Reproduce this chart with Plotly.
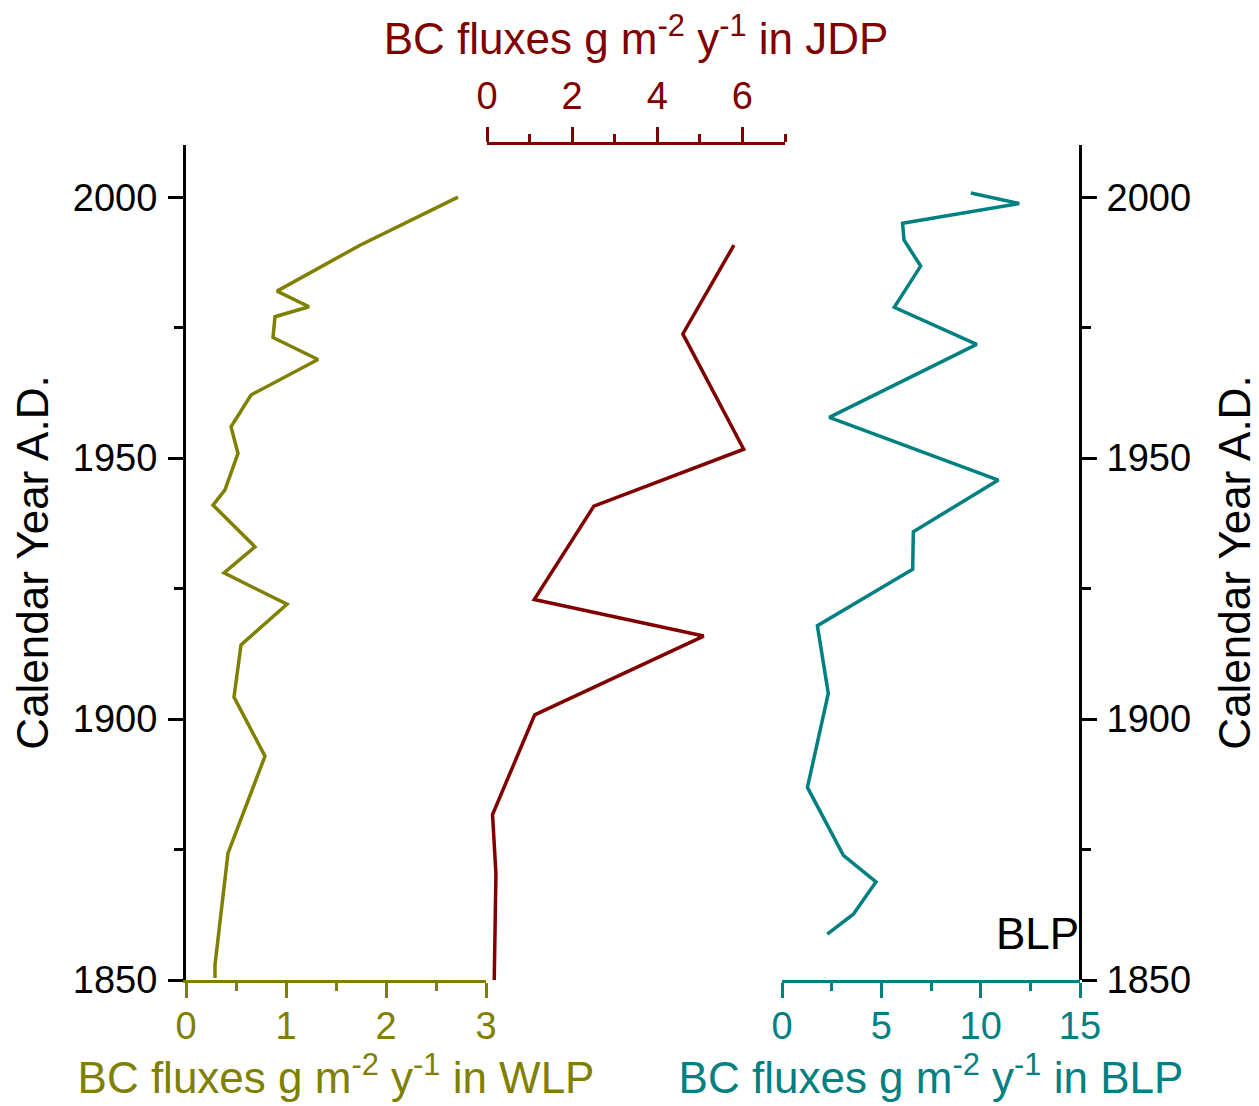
import plotly.graph_objects as go

# ---- data ----
wlp_year = [2000.0, 1990.8, 1982.0, 1979.0, 1977.1, 1973.1, 1968.9, 1962.1, 1956.0, 1950.9,
            1943.9, 1941.0, 1933.0, 1928.0, 1922.0, 1914.2, 1904.2, 1892.9, 1874.3, 1852.9, 1850.4]
wlp_flux = [2.72, 1.74, 0.91, 1.23, 0.89, 0.87, 1.32, 0.65, 0.45, 0.52,
            0.39, 0.27, 0.69, 0.38, 1.01, 0.55, 0.48, 0.79, 0.42, 0.29, 0.29]

jdp_year = [1990.8, 1973.8, 1951.7, 1940.8, 1922.9, 1915.9, 1900.8, 1881.7, 1870.4, 1850.0]
jdp_flux = [5.80, 4.60, 6.03, 2.51, 1.11, 5.09, 1.12, 0.13, 0.21, 0.17]

blp_year = [2000.8, 1998.8, 1995.0, 1991.8, 1986.8, 1978.9, 1971.8, 1957.8, 1945.8, 1935.9,
            1928.7, 1917.9, 1904.9, 1886.9, 1873.9, 1868.8, 1862.6, 1858.8]
blp_flux = [9.51, 11.94, 6.07, 6.14, 6.98, 5.65, 9.80, 2.38, 10.89, 6.61,
            6.58, 1.78, 2.33, 1.28, 3.09, 4.73, 3.59, 2.28]

year_ticks = [1850, 1900, 1950, 2000]
wlp_ticks = [0, 1, 2, 3]
jdp_ticks = [0, 2, 4, 6]
blp_ticks = [0, 5, 10, 15]

OLIVE = "#808000"
MAROON = "#800000"
TEAL = "#008080"
BLACK = "#000000"
FONT = "Liberation Sans, Arial, sans-serif"
TICK_SIZE = 38
TITLE_SIZE = 44
LINE_W = 3.5

# page body adds an 8px offset; figure is sized to fit the window
W, H = 1251, 1098
L, T = 178, 137
PW, PH = 894, 835
R, B = W - L - PW, H - T - PH


def dom(a, b):
    # a, b: pixel positions in the final picture
    return [(a - 8 - L) / PW, (b - 8 - L) / PW]


fig = go.Figure()
fig.add_trace(go.Scatter(x=wlp_flux, y=wlp_year, xaxis="x", yaxis="y", mode="lines",
                         line=dict(color=OLIVE, width=LINE_W), showlegend=False))
fig.add_trace(go.Scatter(x=jdp_flux, y=jdp_year, xaxis="x2", yaxis="y", mode="lines",
                         line=dict(color=MAROON, width=LINE_W), showlegend=False))
fig.add_trace(go.Scatter(x=blp_flux, y=blp_year, xaxis="x3", yaxis="y", mode="lines",
                         line=dict(color=TEAL, width=LINE_W), showlegend=False))
fig.add_trace(go.Scatter(x=[None], y=[None], xaxis="x3", yaxis="y2", mode="lines",
                         showlegend=False, hoverinfo="skip"))

sup_title = "BC fluxes g m<sup>-2</sup> y<sup>-1</sup> in "


def xaxis_style(color, rng, ticks, minor_dtick, domain, side, title, lab_off, tit_off):
    return dict(
        domain=domain, range=rng, anchor="y", side=side,
        showline=True, linecolor=color, linewidth=3,
        ticks="outside", ticklen=15, tickwidth=3, tickcolor=color,
        tickvals=ticks, tickfont=dict(family=FONT, size=TICK_SIZE, color=color),
        ticklabelstandoff=lab_off,
        minor=dict(dtick=minor_dtick, ticks="outside", ticklen=8, tickwidth=3, tickcolor=color),
        showgrid=False, zeroline=False, automargin=False, fixedrange=True,
        title=dict(text=title, font=dict(family=FONT, size=TITLE_SIZE, color=color), standoff=tit_off),
    )


def yaxis_style(side, lab_off, tit_off):
    return dict(
        range=[1850, 2010], side=side,
        showline=True, linecolor=BLACK, linewidth=3,
        ticks="outside", ticklen=15, tickwidth=3, tickcolor=BLACK,
        tickvals=year_ticks, tickfont=dict(family=FONT, size=TICK_SIZE, color=BLACK),
        ticklabelstandoff=lab_off,
        minor=dict(dtick=25, tick0=1850, ticks="outside", ticklen=9, tickwidth=3, tickcolor=BLACK),
        showgrid=False, zeroline=False, automargin=False, fixedrange=True,
        title=dict(text="Calendar Year A.D.", font=dict(family=FONT, size=TITLE_SIZE, color=BLACK),
                   standoff=tit_off),
    )


y1 = yaxis_style("left", 3, 39)
y1.update(domain=[0, 1])
y2 = yaxis_style("right", 2, 30)
y2.update(overlaying="y", anchor="free", position=1)

fig.update_layout(
    width=W, height=H,
    margin=dict(l=L, r=R, t=T, b=B),
    paper_bgcolor="white", plot_bgcolor="white",
    xaxis=xaxis_style(OLIVE, [0, 3], wlp_ticks, 0.5, dom(186, 486), "bottom", sup_title + "WLP", -5, 0),
    xaxis2=xaxis_style(MAROON, [0, 7], jdp_ticks, 1, dom(487, 785), "top", sup_title + "JDP", 3, 29),
    xaxis3=xaxis_style(TEAL, [0, 15], blp_ticks, 2.5, dom(782, 1080), "bottom", sup_title + "BLP", -5, 0),
    yaxis=y1,
    yaxis2=y2,
    annotations=[
        dict(text="BLP", x=15, y=1859, xref="x3", yref="y", xanchor="right", yanchor="middle",
             showarrow=False, font=dict(family=FONT, size=TITLE_SIZE, color=BLACK), xshift=1),
    ],
)

fig.write_html("out.html")
